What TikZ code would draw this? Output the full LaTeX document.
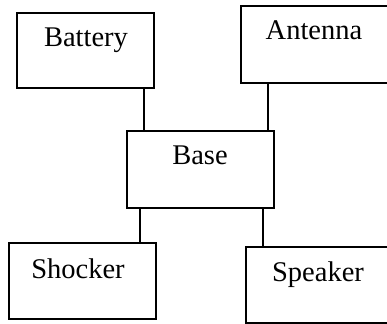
\documentclass[tikz,border=0pt]{standalone}
\usepackage{fontspec}
\setmainfont{Liberation Serif}
\begin{document}
\begin{tikzpicture}[x=0.5pt,y=-0.5pt,
  box/.style={draw=black,line width=1pt,rectangle,inner sep=0pt,outer sep=0pt,anchor=north west},
  openbox/.style={rectangle,inner sep=0pt,outer sep=0pt,anchor=north west},
  edge/.style={draw=black,line width=1pt},
  lbl/.style={anchor=base,inner sep=0pt,font=\fontsize{14.25}{17}\selectfont},
  wire/.style={draw=black,line width=0.9pt}]
\useasboundingbox (0,0) rectangle (387,323);
\node[box,minimum width=68.5pt,minimum height=37.5pt] (bat) at (17,13) {};
\node[openbox,minimum width=73pt,minimum height=38.5pt] (ant) at (241,6) {};
\draw[edge] (ant.north east) -- (ant.north west) -- (ant.south west) -- (ant.south east);
\node[box,minimum width=73.5pt,minimum height=38.5pt] (base) at (127,131) {};
\node[box,minimum width=73.5pt,minimum height=38pt] (sho) at (9,243) {};
\node[openbox,minimum width=70.5pt,minimum height=37.8pt] (spk) at (246,247) {};
\draw[edge] (spk.north east) -- (spk.north west) -- (spk.south west) -- (spk.south east);
\node[lbl] (tbat) at (86,46) {Battery};
\node[lbl] (tant) at (314,39) {Antenna};
\node[lbl] (tbase) at (200,164) {Base};
\node[lbl] (tsho) at (78,278) {Shocker};
\node[lbl] (tspk) at (318,281) {Speaker};
\draw[wire] (bat.south -| 144,0) -- (base.north -| 144,0);
\draw[wire] (ant.south -| 268,0) -- (base.north -| 268,0);
\draw[wire] (base.south -| 140,0) -- (sho.north -| 140,0);
\draw[wire] (base.south -| 263,0) -- (spk.north -| 263,0);
\end{tikzpicture}
\end{document}
